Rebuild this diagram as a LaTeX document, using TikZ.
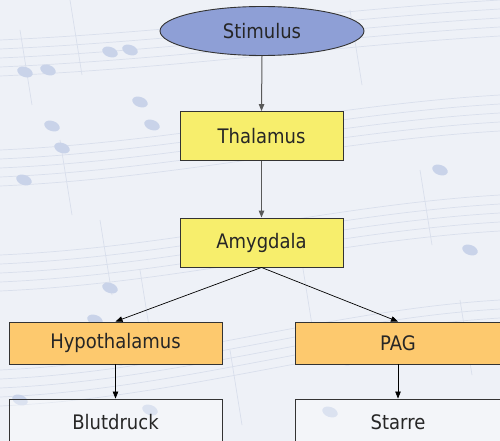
\documentclass[tikz,border=0pt]{standalone}
\usepackage{fontspec}
\setmainfont{DejaVu Sans}[FakeStretch=0.9]
\usetikzlibrary{arrows.meta,shapes.geometric}

\definecolor{paper}{HTML}{EEF1F7}
\definecolor{staff}{HTML}{D9DFEC}
\definecolor{notehead}{HTML}{C9D3E9}
\definecolor{stimfill}{HTML}{8E9FD6}
\definecolor{yellowfill}{HTML}{F7EE6C}
\definecolor{orangefill}{HTML}{FDC96E}
\definecolor{edge}{HTML}{333333}

\tikzset{
  lbl/.style={font=\fontsize{20}{24}\selectfont, text=black!85},
  stim/.style={ellipse, draw=edge, line width=0.9pt, fill=stimfill,
    minimum width=204pt, minimum height=49pt, inner sep=0pt, lbl},
  ybox/.style={rectangle, draw=edge, line width=0.9pt, fill=yellowfill,
    minimum width=163pt, minimum height=49pt, inner sep=0pt, lbl},
  obox/.style={rectangle, draw=edge, line width=0.9pt, fill=orangefill,
    minimum height=42pt, inner sep=0pt, lbl},
  wbox/.style={rectangle, draw=edge, line width=0.9pt, fill=white, fill opacity=0.35,
    text opacity=1, inner sep=0pt, lbl},
  link/.style={-{Triangle[length=7pt,width=5.5pt]}, line width=0.7pt},
  glink/.style={link, draw=black!65, line width=1pt},
  stave/.style={draw=staff, line width=0.7pt},
  note/.style={fill=notehead},
}

\begin{document}
\begin{tikzpicture}[x=1pt,y=-1pt]
  % page and faint score in the background
  \fill[paper] (0,0) rectangle (500,441);
  \useasboundingbox (0,0) rectangle (500,441);
  \foreach \yl/\yr in {40/0, 150/95, 255/195, 370/300}{
    \foreach \k in {0,...,4}{
      \draw[stave] (0,\yl+9*\k) .. controls (180,\yl+9*\k-8) and (330,\yr+9*\k+10) .. (500,\yr+9*\k);
    }
  }
  \foreach \x/\y in {20/60, 70/30, 100/250, 140/300, 300/280, 350/40, 420/200, 460/330, 230/380, 60/170}{
    \draw[stave] (\x,\y-30) -- (\x+12,\y+45);
  }
  \foreach \x/\y in {25/72, 48/70, 52/126, 62/148, 24/180, 110/52, 130/50, 140/102, 152/125,
                     110/288, 95/320, 118/360, 180/350, 150/410, 345/360, 330/412, 440/170, 470/250, 20/400}{
    \fill[note, rotate around={-20:(\x,\y)}] (\x,\y) ellipse (8pt and 5pt);
  }

  % nodes
  \node[stim] (stimulus) at (262,31) {Stimulus};
  \node[ybox] (thalamus) at (261.5,136) {Thalamus};
  \node[ybox] (amygdala) at (261.5,242.5) {Amygdala};
  \node[obox, minimum width=213pt] (hypo) at (115.5,343) {Hypothalamus};
  \node[obox, minimum width=206pt] (pag) at (398,343) {PAG};
  \node[wbox, minimum width=213pt, minimum height=50pt] (blut) at (115.5,424) {};
  \node[lbl, anchor=base] (blutlbl) at (115.5,429) {Blutdruck};
  \node[wbox, minimum width=206pt, minimum height=50pt] (starre) at (398,424) {};
  \node[lbl, anchor=base] (starrelbl) at (398,429) {Starre};

  % connectors
  \draw[glink] (stimulus.south) -- (thalamus.north);
  \draw[glink] (thalamus.south) -- (amygdala.north);
  \draw[link] (amygdala.south) -- (hypo.north);
  \draw[link] (amygdala.south) -- (pag.north);
  \draw[link] (hypo.south) -- (blut.north);
  \draw[link] (pag.south) -- (starre.north);
\end{tikzpicture}
\end{document}
